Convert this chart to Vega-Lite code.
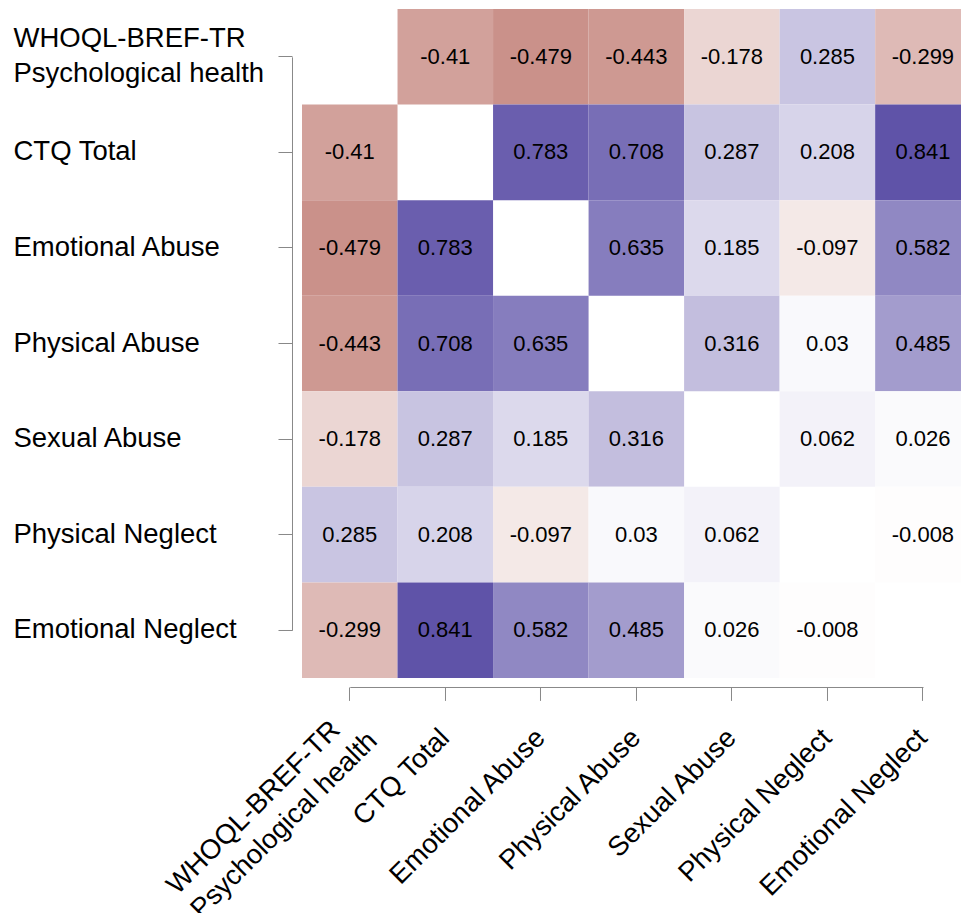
{
  "$schema": "https://vega.github.io/schema/vega-lite/v6.json",
  "width": 668.7,
  "height": 669,
  "autosize": {"type": "none"},
  "padding": {"left": 302, "top": 9, "right": 0, "bottom": 235},
  "background": "white",
  "config": {"view": {"stroke": null}, "font": "Liberation Sans"},
  "data": {"values": [
    {"row": "WHOQL-BREF-TR Psychological health", "col": "CTQ Total", "r": -0.41},
    {"row": "WHOQL-BREF-TR Psychological health", "col": "Emotional Abuse", "r": -0.479},
    {"row": "WHOQL-BREF-TR Psychological health", "col": "Physical Abuse", "r": -0.443},
    {"row": "WHOQL-BREF-TR Psychological health", "col": "Sexual Abuse", "r": -0.178},
    {"row": "WHOQL-BREF-TR Psychological health", "col": "Physical Neglect", "r": 0.285},
    {"row": "WHOQL-BREF-TR Psychological health", "col": "Emotional Neglect", "r": -0.299},
    {"row": "CTQ Total", "col": "WHOQL-BREF-TR Psychological health", "r": -0.41},
    {"row": "CTQ Total", "col": "Emotional Abuse", "r": 0.783},
    {"row": "CTQ Total", "col": "Physical Abuse", "r": 0.708},
    {"row": "CTQ Total", "col": "Sexual Abuse", "r": 0.287},
    {"row": "CTQ Total", "col": "Physical Neglect", "r": 0.208},
    {"row": "CTQ Total", "col": "Emotional Neglect", "r": 0.841},
    {"row": "Emotional Abuse", "col": "WHOQL-BREF-TR Psychological health", "r": -0.479},
    {"row": "Emotional Abuse", "col": "CTQ Total", "r": 0.783},
    {"row": "Emotional Abuse", "col": "Physical Abuse", "r": 0.635},
    {"row": "Emotional Abuse", "col": "Sexual Abuse", "r": 0.185},
    {"row": "Emotional Abuse", "col": "Physical Neglect", "r": -0.097},
    {"row": "Emotional Abuse", "col": "Emotional Neglect", "r": 0.582},
    {"row": "Physical Abuse", "col": "WHOQL-BREF-TR Psychological health", "r": -0.443},
    {"row": "Physical Abuse", "col": "CTQ Total", "r": 0.708},
    {"row": "Physical Abuse", "col": "Emotional Abuse", "r": 0.635},
    {"row": "Physical Abuse", "col": "Sexual Abuse", "r": 0.316},
    {"row": "Physical Abuse", "col": "Physical Neglect", "r": 0.03},
    {"row": "Physical Abuse", "col": "Emotional Neglect", "r": 0.485},
    {"row": "Sexual Abuse", "col": "WHOQL-BREF-TR Psychological health", "r": -0.178},
    {"row": "Sexual Abuse", "col": "CTQ Total", "r": 0.287},
    {"row": "Sexual Abuse", "col": "Emotional Abuse", "r": 0.185},
    {"row": "Sexual Abuse", "col": "Physical Abuse", "r": 0.316},
    {"row": "Sexual Abuse", "col": "Physical Neglect", "r": 0.062},
    {"row": "Sexual Abuse", "col": "Emotional Neglect", "r": 0.026},
    {"row": "Physical Neglect", "col": "WHOQL-BREF-TR Psychological health", "r": 0.285},
    {"row": "Physical Neglect", "col": "CTQ Total", "r": 0.208},
    {"row": "Physical Neglect", "col": "Emotional Abuse", "r": -0.097},
    {"row": "Physical Neglect", "col": "Physical Abuse", "r": 0.03},
    {"row": "Physical Neglect", "col": "Sexual Abuse", "r": 0.062},
    {"row": "Physical Neglect", "col": "Emotional Neglect", "r": -0.008},
    {"row": "Emotional Neglect", "col": "WHOQL-BREF-TR Psychological health", "r": -0.299},
    {"row": "Emotional Neglect", "col": "CTQ Total", "r": 0.841},
    {"row": "Emotional Neglect", "col": "Emotional Abuse", "r": 0.582},
    {"row": "Emotional Neglect", "col": "Physical Abuse", "r": 0.485},
    {"row": "Emotional Neglect", "col": "Sexual Abuse", "r": 0.026},
    {"row": "Emotional Neglect", "col": "Physical Neglect", "r": -0.008}
  ]},
  "encoding": {
    "x": {
      "field": "col", "type": "nominal",
      "sort": ["WHOQL-BREF-TR Psychological health", "CTQ Total", "Emotional Abuse", "Physical Abuse", "Sexual Abuse", "Physical Neglect", "Emotional Neglect"],
      "scale": {"paddingInner": 0, "paddingOuter": 0},
      "axis": {
        "title": null, "orient": "bottom", "offset": 9, "tickSize": 13.4,
        "tickColor": "#888888", "domainColor": "#888888",
        "domainDash": [0, 47.8, 573.2, 300],
        "labelAngle": -45,
        "labelAlign": {"condition": {"test": "datum.value == 'WHOQL-BREF-TR Psychological health'", "value": "left"}, "value": "right"},
        "labelBaseline": "middle",
        "labelPadding": {"condition": {"test": "datum.value == 'WHOQL-BREF-TR Psychological health'", "value": 189}, "value": 33},
        "labelOffset": {"condition": {"test": "datum.value == 'WHOQL-BREF-TR Psychological health'", "value": -178}, "value": 0},
        "labelFontSize": 27.5, "labelColor": "black",
        "labelLimit": 500, "labelLineHeight": 34, "labelOverlap": false,
        "labelFont": "Liberation Sans", "grid": false,
        "labelExpr": "datum.value == 'WHOQL-BREF-TR Psychological health' ? ['WHOQL-BREF-TR', 'Psychological health'] : datum.value"
      }
    },
    "y": {
      "field": "row", "type": "nominal",
      "sort": ["WHOQL-BREF-TR Psychological health", "CTQ Total", "Emotional Abuse", "Physical Abuse", "Sexual Abuse", "Physical Neglect", "Emotional Neglect"],
      "scale": {"paddingInner": 0, "paddingOuter": 0},
      "axis": {
        "title": null, "orient": "left", "offset": 10, "tickSize": 14,
        "tickColor": "#888888", "domainColor": "#888888",
        "domainDash": [0, 47.8, 573.4, 300],
        "labelAlign": "left", "labelBaseline": "middle",
        "labelPadding": 265,
        "labelOffset": {"condition": {"test": "datum.value == 'WHOQL-BREF-TR Psychological health'", "value": -17.5}, "value": 0},
        "labelFontSize": 27.5, "labelColor": "black",
        "labelLimit": 500, "labelLineHeight": 35, "labelOverlap": false,
        "labelFont": "Liberation Sans", "grid": false,
        "labelExpr": "datum.value == 'WHOQL-BREF-TR Psychological health' ? ['WHOQL-BREF-TR', 'Psychological health'] : datum.value"
      }
    }
  },
  "layer": [
    {
      "mark": {"type": "rect"},
      "encoding": {
        "color": {
          "field": "r", "type": "quantitative",
          "scale": {"type": "linear", "domain": [-1, 0, 1], "range": ["#91190a", "#ffffff", "#413298"], "interpolate": "rgb"},
          "legend": null
        }
      }
    },
    {
      "mark": {"type": "text", "fontSize": 22, "color": "black", "font": "Liberation Sans"},
      "encoding": {"text": {"field": "r", "type": "nominal"}}
    }
  ]
}
